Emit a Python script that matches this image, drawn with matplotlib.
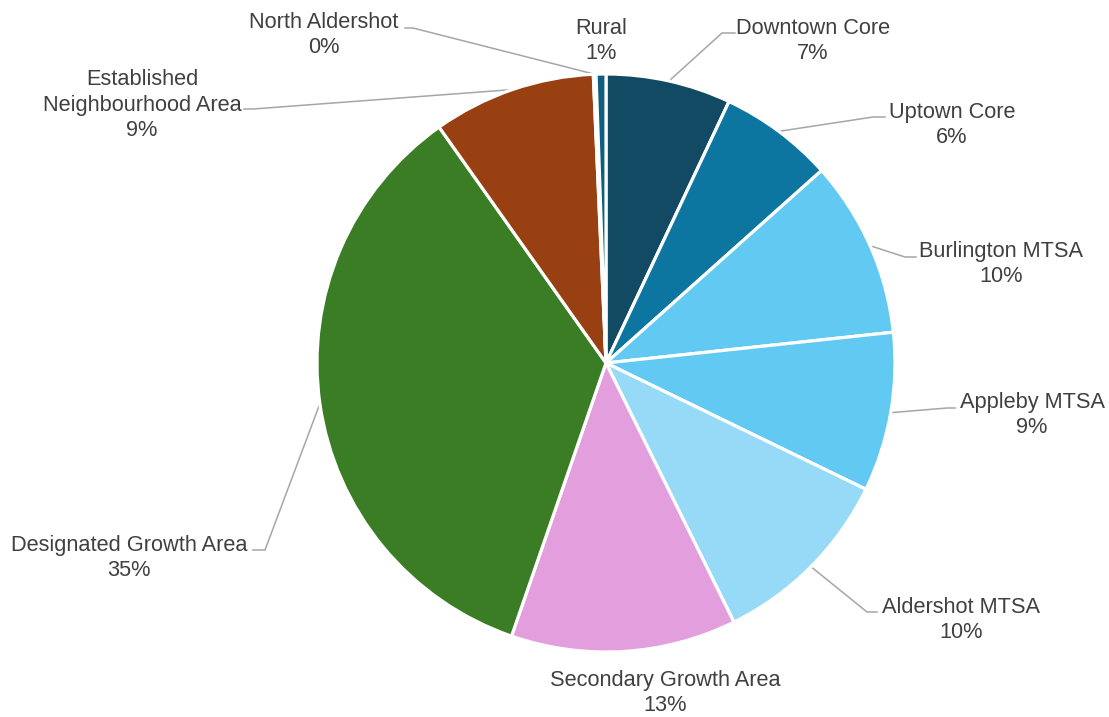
import numpy as np
import matplotlib
matplotlib.use('Agg')
import matplotlib.pyplot as plt

# --- data (share of total, %) ---
areas = ['Downtown Core', 'Uptown Core', 'Burlington MTSA', 'Appleby MTSA',
         'Aldershot MTSA', 'Secondary Growth Area', 'Designated Growth Area',
         'Established\nNeighbourhood Area', 'North Aldershot', 'Rural']
shares = [7.0, 6.4, 9.9, 8.9, 10.5, 12.6, 34.9, 9.1, 0.15, 0.55]
colors = ['#124A63', '#0C76A0', '#62C9F2', '#62C9F2', '#97DAF7',
          '#E39FDD', '#3B7D25', '#984011', '#7F7F7F', '#0D5E7F']

# --- layout, in pixels of the 1109x717 picture ---
W, H = 1109, 717
CX, CY, R = 606, 363, 289

# label block centre, then elbow and end of the leader (None = no leader)
label_pos = [(813, 41), (952, 125), (1001, 264), (1032, 415), (961, 620),
             (665, 693), (129, 558), (142, 105), (324, 35), (601, 41)]
leader_pts = [[(722, 33), (735, 33)],
              [(873, 117), (885, 117)],
              [(905, 257), (916, 257)],
              [(947, 408), (955, 408)],
              [(867, 612), (877, 612)],
              None,
              [(265, 550), (253, 550)],
              [(253, 109), (244, 109)],
              [(413, 28), (405, 28)],
              None]


def to_data(px, py):
    return (px - CX) / R, (CY - py) / R


fig = plt.figure(figsize=(W / 100, H / 100), dpi=100)
ax = fig.add_axes([0, 0, 1, 1])
ax.axis('off')

wedges, _ = ax.pie(shares, colors=colors, startangle=90, counterclock=False,
                   radius=1, center=(0, 0),
                   wedgeprops=dict(edgecolor='white', linewidth=2.3))
ax.set_aspect('auto')
ax.set_xlim(-CX / R, (W - CX) / R)
ax.set_ylim((CY - H) / R, CY / R)

total = sum(shares)
text_color = '#404040'
line_color = '#A6A6A6'
for i, w in enumerate(wedges):
    pct = f"{shares[i] / total * 100:.0f}%"
    lx, ly = to_data(*label_pos[i])
    ax.text(lx, ly, f"{areas[i]}\n{pct}", ha='center', va='center',
            multialignment='center', fontsize=15.7, color=text_color,
            family=['Liberation Sans', 'DejaVu Sans'], linespacing=1.27)
    if leader_pts[i] is not None:
        mid = np.deg2rad((w.theta1 + w.theta2) / 2)
        xs = [np.cos(mid)]
        ys = [np.sin(mid)]
        for p in leader_pts[i]:
            dx, dy = to_data(*p)
            xs.append(dx)
            ys.append(dy)
        ax.plot(xs, ys, color=line_color, lw=1.1, zorder=0)

fig.savefig('out.png', dpi=100)
